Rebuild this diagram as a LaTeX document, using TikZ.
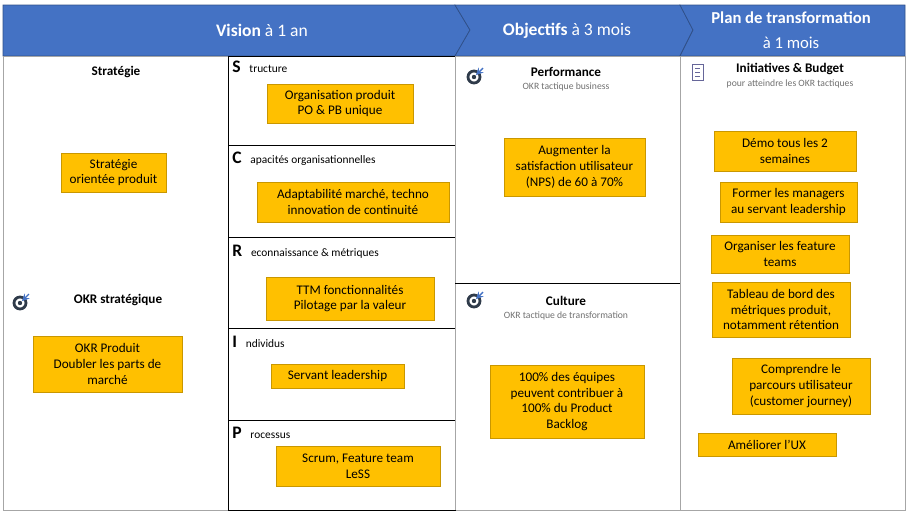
\documentclass[tikz,border=0pt]{standalone}
\usepackage{fontspec}
\setmainfont{Carlito}
\definecolor{hdblue}{HTML}{4472C4}
\definecolor{okrfill}{HTML}{FFC000}
\definecolor{okredge}{HTML}{C99700}
\definecolor{icondark}{HTML}{2F3B4A}
\definecolor{subgray}{HTML}{707070}
\tikzset{
  okrbox/.style={draw=okredge,fill=okrfill,align=center,inner sep=1pt,font=\fontsize{7.5}{9}\selectfont},
  title/.style={font=\bfseries\fontsize{7.5}{9}\selectfont},
  subtitle/.style={text=subgray,font=\fontsize{5.5}{6.5}\selectfont},
  scrip/.style={anchor=west,inner sep=0pt},
  target/.pic={\draw[icondark,line width=1.6pt] (0,0) circle (6); \fill[icondark] (0,0) circle (2.2);
    \draw[hdblue,line width=0.8pt,-stealth] (9,-9) -- (2,-2);}
}
\newcommand{\scripline}[2]{{\bfseries\fontsize{10}{10}\selectfont #1}\hspace{5pt}{\fontsize{6.5}{8}\selectfont #2}}
\begin{document}
\begin{tikzpicture}[x=0.02cm,y=-0.02cm]
\useasboundingbox (0,0) rectangle (907,511);
% header
\filldraw[fill=hdblue,draw=hdblue!70!black] (3,5) -- (455,5) -- (470,30) -- (455,56) -- (3,56) -- cycle;
\filldraw[fill=hdblue,draw=hdblue!70!black] (455,5) -- (680,5) -- (693,30) -- (680,56) -- (455,56) -- (470,30) -- cycle;
\filldraw[fill=hdblue,draw=hdblue!70!black] (680,5) -- (905,5) -- (905,56) -- (680,56) -- (693,30) -- cycle;
\node[text=white,font=\fontsize{10}{12}\selectfont] (vision) at (262,30) {\textbf{Vision} à 1 an};
\node[text=white,font=\fontsize{10}{12}\selectfont] (objectifs) at (567,31) {\textbf{Objectifs} à 3 mois};
\node[text=white,font=\fontsize{9.5}{12}\selectfont,align=center] (plan) at (791,30) {\textbf{Plan de transformation}\\[2pt]à 1 mois};
% body frames
\draw[gray!70] (3,56) rectangle (905,510);
\draw (228,56) rectangle (455,510);
\foreach \y in {145,237,328,420} \draw (228,\y) -- (455,\y);
\draw[gray!70] (455,56) -- (455,510) (680,56) -- (680,510);
\draw (455,283) -- (680,283);
% strategy column
\node[title] (strategie) at (116,72) {Stratégie};
\node[okrbox,minimum width=2.1cm,minimum height=0.78cm] (stratprod) at (113.5,172.5) {Stratégie\\orientée produit};
\pic at (20,303) {target};
\node[title] (okrstrat) at (118,300) {OKR stratégique};
\node[okrbox,minimum width=2.98cm,minimum height=1.12cm] (okrprod) at (107.5,364) {OKR Produit\\Doubler les parts de\\marché};
% SCRIP column
\node[scrip] (s) at (232,67) {\scripline{S}{tructure}};
\node[okrbox,minimum width=2.92cm,minimum height=0.78cm] (orgprod) at (340,103.5) {Organisation produit\\PO \& PB unique};
\node[scrip] (c) at (232,159) {\scripline{C}{apacités organisationnelles}};
\node[okrbox,minimum width=3.84cm,minimum height=0.8cm] (adapt) at (353,202) {Adaptabilité marché, techno\\innovation de continuité};
\node[scrip] (r) at (232,252) {\scripline{R}{econnaissance \& métriques}};
\node[okrbox,minimum width=3.36cm,minimum height=0.86cm] (ttm) at (350,298.5) {TTM fonctionnalités\\Pilotage par la valeur};
\node[scrip] (i) at (232,342) {\scripline{I}{ndividus}};
\node[okrbox,minimum width=2.66cm,minimum height=0.48cm] (servant) at (337.5,376) {Servant leadership};
\node[scrip] (p) at (232,433) {\scripline{P}{rocessus}};
\node[okrbox,minimum width=3.28cm,minimum height=0.8cm] (scrum) at (358,466) {Scrum, Feature team\\LeSS};
% objectives column
\pic at (474,77) {target};
\node[title] (perf) at (566,72) {Performance};
\node[subtitle] (perfsub) at (566,87) {OKR tactique business};
\node[okrbox,minimum width=2.82cm,minimum height=1.16cm] (augm) at (574.5,167) {Augmenter la\\satisfaction utilisateur\\(NPS) de 60 à 70\%};
\pic at (474,301) {target};
\node[title] (culture) at (566,301) {Culture};
\node[subtitle] (culturesub) at (566,316) {OKR tactique de transformation};
\node[okrbox,minimum width=3.08cm,minimum height=1.46cm] (equipes) at (567,401.5) {100\% des équipes\\peuvent contribuer à\\100\% du Product\\Backlog};
% plan column
\draw[gray!80!blue] (692,64) rectangle (703,80);
\foreach \y in {68,72,76} \draw[gray!80!blue,line width=0.4pt] (695,\y) -- (700,\y);
\node[title] (initiatives) at (790,69) {Initiatives \& Budget};
\node[subtitle] (initsub) at (790,84) {pour atteindre les OKR tactiques};
\node[okrbox,minimum width=2.84cm,minimum height=0.8cm] (demo) at (785,151) {Démo tous les 2\\semaines};
\node[okrbox,minimum width=2.74cm,minimum height=0.8cm] (former) at (788.5,202) {Former les managers\\au servant leadership};
\node[okrbox,minimum width=2.76cm,minimum height=0.76cm] (organiser) at (780,254) {Organiser les feature\\teams};
\node[okrbox,minimum width=2.76cm,minimum height=1.1cm] (tableau) at (781,309.5) {Tableau de bord des\\métriques produit,\\notamment rétention};
\node[okrbox,minimum width=2.76cm,minimum height=1.12cm] (comprendre) at (801,386) {Comprendre le\\parcours utilisateur\\(customer journey)};
\node[okrbox,minimum width=2.76cm,minimum height=0.46cm] (ux) at (767,444.5) {Améliorer l’UX};
\end{tikzpicture}
\end{document}
